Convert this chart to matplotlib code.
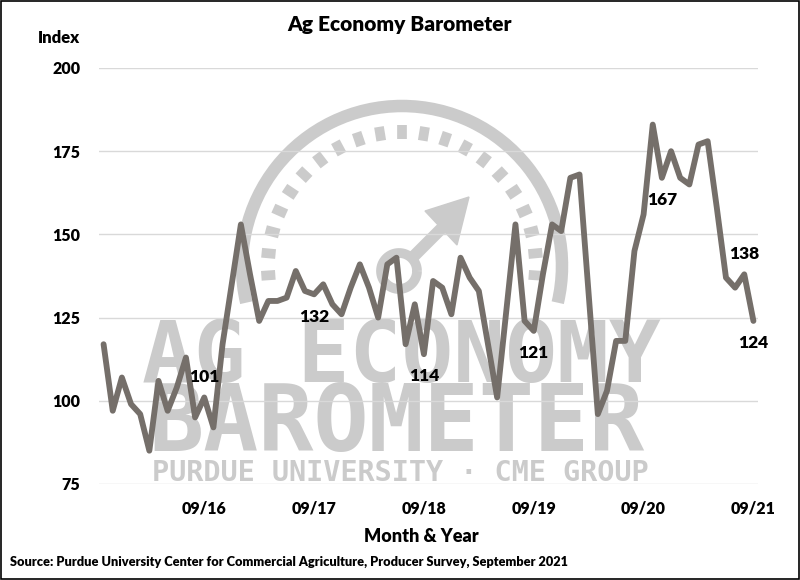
import matplotlib
matplotlib.use("Agg")
import matplotlib.pyplot as plt
from matplotlib.patches import Arc, Rectangle, Polygon
import numpy as np

# monthly index, Oct 2015 .. Sep 2021
values = [117, 97, 107, 99, 96, 85, 106, 97, 104, 113, 95, 101,
          92, 117, 135, 153, 138, 124, 130, 130, 131, 139, 133, 132,
          135, 129, 126, 134, 141, 134, 125, 141, 143, 117, 129, 114,
          136, 134, 126, 143, 137, 133, 117, 101, 127, 153, 124, 121,
          138, 153, 151, 167, 168, 132, 96, 103, 118, 118, 145, 156,
          183, 167, 175, 167, 165, 177, 178, 158, 137, 134, 138, 124]
tick_pos = [11, 23, 35, 47, 59, 71]
tick_labels = ["09/16", "09/17", "09/18", "09/19", "09/20", "09/21"]
yticks = [75, 100, 125, 150, 175, 200]
# (month index, 'above'/'below')
labeled = [(11, "above"), (23, "below"), (35, "below"), (47, "below"),
           (61, "below"), (70, "above"), (71, "below")]

W, H = 800, 580
FONT = ["Lato", "DejaVu Sans"]
WM = "#cbcbcb"
LINE = "#756f6a"

fig = plt.figure(figsize=(W / 100, H / 100), dpi=100)

def fx(px):
    return np.asarray(px) / W

def fy(py):
    return 1 - np.asarray(py) / H

def wm_line(xs, ys, lw, cap="butt"):
    fig.add_artist(plt.Line2D(fx(xs), fy(ys), transform=fig.transFigure,
                              color=WM, lw=lw, solid_capstyle=cap, zorder=0))

# plot area in pixels: x 99..758, y 68..484
ax = fig.add_axes([fx(99), fy(484), (758 - 99) / W, (484 - 68) / H])
ax.set_zorder(2)
ax.patch.set_alpha(0)

# ---- watermark (gauge logo behind the plot) ----
cx, cy = 402, 266
fig.add_artist(Arc((fx(cx), fy(cy)), 2 * 160 / W, 2 * 160 / H, theta1=-18, theta2=198,
                   transform=fig.transFigure, color=WM, lw=9, zorder=0))
for a in np.linspace(-4, 184, 21):
    t = np.radians(a)
    r0, r1 = 127, 141
    wm_line([cx + r0 * np.cos(t), cx + r1 * np.cos(t)],
            [cy - r0 * np.sin(t), cy - r1 * np.sin(t)], 7)
hx, hy = 399, 271
ang = np.linspace(0, 2 * np.pi, 80)
wm_line(hx + 18 * np.cos(ang), hy + 18 * np.sin(ang), 7)
wm_line([hx + 13, 445], [hy - 13, 225], 8.6)
fig.add_artist(Polygon(np.column_stack([fx([469, 425, 457]), fy([197, 211, 245])]),
                       closed=True, transform=fig.transFigure, color=WM, zorder=0))

fig.text(fx(401), fy(382), "AG ECONOMY", family="DejaVu Sans Mono", weight="bold",
         fontsize=62, color=WM, ha="center", va="baseline", zorder=0)
fig.text(fx(396), fy(451), "BAROMETER", family="DejaVu Sans Mono", weight="bold",
         fontsize=66, color=WM, ha="center", va="baseline", zorder=0)
fig.text(fx(400), fy(481), "PURDUE UNIVERSITY · CME GROUP", family="DejaVu Sans Mono",
         weight="bold", fontsize=20.5, color=WM, ha="center", va="baseline", zorder=0)

# ---- data ----
x = np.arange(len(values))
ax.plot(x, values, color=LINE, lw=4.2, solid_joinstyle="round",
        solid_capstyle="round", zorder=3)

for i, pos in labeled:
    off = 14.5 if pos == "above" else -16
    ax.annotate(str(values[i]), (x[i], values[i]), xytext=(0, off),
                textcoords="offset points", ha="center", va="center",
                fontsize=12.5, fontweight="heavy", family=FONT, color="black",
                zorder=4)

ax.set_xlim(-0.5, len(values) - 0.5)
ax.set_ylim(75, 200)
ax.set_yticks(yticks)
ax.set_xticks(tick_pos)
ax.set_xticklabels(tick_labels)
ax.grid(axis="y", color="#d9d9d9", lw=1)
ax.set_axisbelow(True)
for s in ax.spines.values():
    s.set_visible(False)
ax.tick_params(length=0)
ax.tick_params(axis="y", pad=13.5)
ax.tick_params(axis="x", pad=12)
for lab in ax.get_xticklabels() + ax.get_yticklabels():
    lab.set_fontfamily(FONT)
    lab.set_fontweight("heavy")
    lab.set_fontsize(11.5)

fig.text(fx(400), fy(25), "Ag Economy Barometer", ha="center", va="center",
         fontsize=15, fontweight="heavy", family=FONT)
fig.text(fx(80), fy(38), "Index", ha="right", va="center",
         fontsize=12, fontweight="heavy", family=FONT)
fig.text(fx(421), fy(536), "Month & Year", ha="center", va="center",
         fontsize=13, fontweight="heavy", family=FONT)
fig.text(fx(10), fy(562), "Source: Purdue University Center for Commercial Agriculture, "
         "Producer Survey, September 2021", ha="left", va="center",
         fontsize=9.2, fontweight="heavy", family=FONT)

fig.add_artist(Rectangle((0.0008, 0.001), 0.9984, 0.998, transform=fig.transFigure,
                         fill=False, edgecolor="black", lw=1.2, zorder=5))

fig.savefig("out.png", dpi=100)
